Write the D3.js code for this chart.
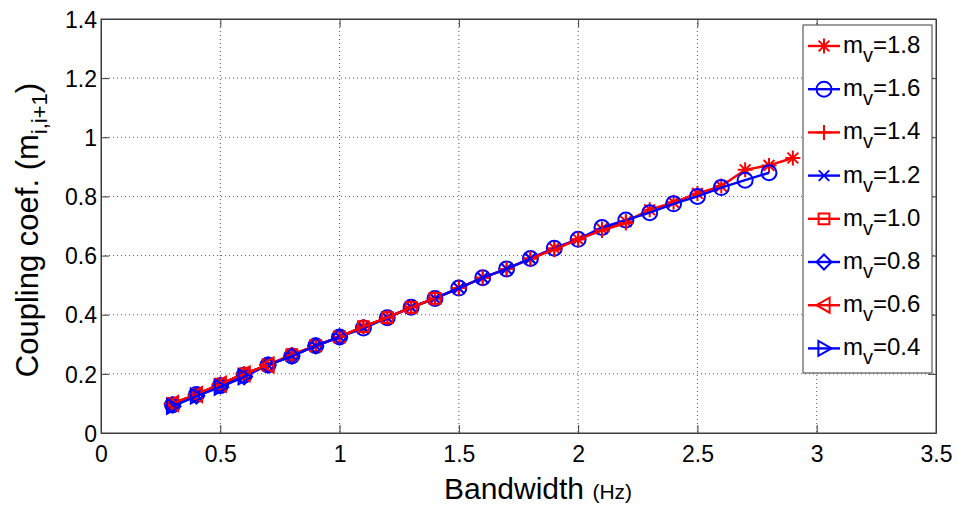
<!DOCTYPE html>
<html><head><meta charset="utf-8">
<script src="https://cdn.jsdelivr.net/npm/d3@7"></script>
<style>body{margin:0;background:#fff}svg{display:block;font-family:"Liberation Sans",Arial,sans-serif}</style>
</head><body><svg id="c" width="958" height="506"></svg>
<script>
const xTicks=[0,0.5,1,1.5,2,2.5,3,3.5];
const yTicks=[0,0.2,0.4,0.6,0.8,1,1.2,1.4];
const xTickLabels=["0","0.5","1","1.5","2","2.5","3","3.5"];
const yTickLabels=["0","0.2","0.4","0.6","0.8","1","1.2","1.4"];
const seriesNames=["1.8","1.6","1.4","1.2","1.0","0.8","0.6","0.4"];
const seriesColors=["#ff0000","#0000ff","#ff0000","#0000ff","#ff0000","#0000ff","#ff0000","#0000ff"];
const seriesMarkers=["asterisk","circle","plus","cross","square","diamond","triLeft","triRight"];
const xStart=0.3, xStep=0.1;
const y18=[0.10,0.13,0.165,0.20,0.23,0.265,0.295,0.325,0.36,0.39,0.425,0.455,0.49,0.525,0.555,0.59,0.625,0.655,0.69,0.715,0.755,0.78,0.81,0.835,0.89,0.905,0.93];
const y16=[0.095,0.13,0.16,0.195,0.23,0.26,0.295,0.325,0.355,0.39,0.425,0.455,0.49,0.525,0.555,0.59,0.625,0.655,0.695,0.72,0.745,0.775,0.80,0.83,0.855,0.88];
const y14=[0.10,0.13,0.165,0.20,0.23,0.265,0.295,0.325,0.36,0.39,0.425,0.455,0.49,0.525,0.555,0.59,0.62,0.655,0.685,0.71];
const y12=[0.095,0.13,0.16,0.195,0.23,0.26,0.295,0.325,0.355,0.39,0.425,0.455,0.49,0.525,0.555,0.59];
const y10=[0.10,0.13,0.165,0.20,0.23,0.265,0.295,0.325,0.36,0.39,0.425,0.455];
const y08=[0.095,0.125,0.16,0.19,0.23,0.26,0.295,0.325];
const y06=[0.10,0.13,0.165,0.20,0.23];
const y04=[0.09,0.125,0.155,0.19];
const seriesValues=[y18,y16,y14,y12,y10,y08,y06,y04];

const svg=d3.select("#c");
const L=101,R=936,T=19,B=433;
const x=d3.scaleLinear().domain([0,3.5]).range([L,R]);
const y=d3.scaleLinear().domain([0,1.4]).range([B,T]);
const axisCol="#3c3c3c";

// grid
const g=svg.append("g");
g.selectAll(".gx").data(xTicks.slice(1,-1)).enter().append("line")
 .attr("x1",d=>x(d)).attr("x2",d=>x(d)).attr("y1",T).attr("y2",B)
 .attr("stroke","#555").attr("stroke-width",1).attr("stroke-dasharray","1,3");
g.selectAll(".gy").data(yTicks.slice(1,-1)).enter().append("line")
 .attr("y1",d=>y(d)).attr("y2",d=>y(d)).attr("x1",L).attr("x2",R)
 .attr("stroke","#555").attr("stroke-width",1).attr("stroke-dasharray","1,3");

// axes
const xa=svg.append("g").attr("transform",`translate(0,${B})`)
 .call(d3.axisBottom(x).tickValues(xTicks).tickFormat((d,i)=>xTickLabels[i]).tickSizeInner(-8).tickSizeOuter(0));
const xa2=svg.append("g").attr("transform",`translate(0,${T})`)
 .call(d3.axisTop(x).tickValues(xTicks).tickFormat("").tickSizeInner(-8).tickSizeOuter(0));
const ya=svg.append("g").attr("transform",`translate(${L},0)`)
 .call(d3.axisLeft(y).tickValues(yTicks).tickFormat((d,i)=>yTickLabels[i]).tickSizeInner(-8).tickSizeOuter(0));
const ya2=svg.append("g").attr("transform",`translate(${R},0)`)
 .call(d3.axisRight(y).tickValues(yTicks).tickFormat("").tickSizeInner(-8).tickSizeOuter(0));
[xa,xa2,ya,ya2].forEach(a=>{
 a.selectAll("path").attr("stroke",axisCol).attr("stroke-width",1);
 a.selectAll("line").attr("stroke",axisCol).attr("stroke-width",1);
 a.selectAll("text").attr("fill","#000").style("font-size","23px").style("font-family","'Liberation Sans',Arial,sans-serif");
});
xa.selectAll("text").attr("dy",0).attr("y",29);
ya.selectAll("text").attr("x",-4).attr("dy","0.36em");

// marker path generator
function markerPath(type,s){
 switch(type){
  case "asterisk":{const a=s*0.72;return `M${-s},0L${s},0M0,${-s}L0,${s}M${-a},${-a}L${a},${a}M${-a},${a}L${a},${-a}`;}
  case "circle": return `M${s},0A${s},${s} 0 1,1 ${-s},0A${s},${s} 0 1,1 ${s},0Z`;
  case "plus": return `M${-s},0L${s},0M0,${-s}L0,${s}`;
  case "cross":{const a=s*0.7;return `M${-a},${-a}L${a},${a}M${-a},${a}L${a},${-a}`;}
  case "square":{const a=s*0.72;return `M${-a},${-a}H${a}V${a}H${-a}Z`;}
  case "diamond": return `M0,${-s}L${s},0L0,${s}L${-s},0Z`;
  case "triLeft": return `M${-s},0L${s*0.75},${-s}L${s*0.75},${s}Z`;
  case "triRight": return `M${s},0L${-s*0.75},${-s}L${-s*0.75},${s}Z`;
 }
}
const line=d3.line().x(d=>x(d[0])).y(d=>y(d[1]));
const plot=svg.append("g");
seriesValues.forEach((vals,i)=>{
 const pts=vals.map((v,j)=>[+(xStart+j*xStep).toFixed(2),v]);
 const sg=plot.append("g");
 sg.append("path").datum(pts).attr("d",line).attr("fill","none")
  .attr("stroke",seriesColors[i]).attr("stroke-width",2.4);
 sg.selectAll("path.m").data(pts).enter().append("path").attr("class","m")
  .attr("transform",d=>`translate(${x(d[0])},${y(d[1])})`)
  .attr("d",markerPath(seriesMarkers[i],7.5)).attr("fill","none")
  .attr("stroke",seriesColors[i]).attr("stroke-width",2);
});

// box on top
svg.append("rect").attr("x",L).attr("y",T).attr("width",R-L).attr("height",B-T)
 .attr("fill","none").attr("stroke",axisCol).attr("stroke-width",1);

// legend
const lg=svg.append("g");
lg.append("rect").attr("x",803).attr("y",25).attr("width",129).attr("height",348)
 .attr("fill","#fff").attr("stroke",axisCol).attr("stroke-width",1);
seriesNames.forEach((n,i)=>{
 const cy=46+i*43.2;
 lg.append("line").attr("x1",808).attr("x2",840).attr("y1",cy).attr("y2",cy)
  .attr("stroke",seriesColors[i]).attr("stroke-width",2.4);
 lg.append("path").attr("transform",`translate(824,${cy})`).attr("d",markerPath(seriesMarkers[i],7.5))
  .attr("fill","none").attr("stroke",seriesColors[i]).attr("stroke-width",2);
 const t=lg.append("text").attr("x",843).attr("y",cy+7).attr("fill","#000").style("font-size","24px");
 t.append("tspan").text("m");
 t.append("tspan").text("v").attr("dy",9).style("font-size","20px");
 t.append("tspan").text("="+n).attr("dy",-9);
});

// axis labels
const xl=svg.append("text").attr("x",538).attr("y",499).attr("text-anchor","middle").attr("fill","#000");
xl.append("tspan").text("Bandwidth ").style("font-size","30px");
xl.append("tspan").text("(Hz)").style("font-size","21px");
const yl=svg.append("text").attr("transform","translate(38,230) rotate(-90)").attr("text-anchor","middle").attr("fill","#000");
yl.append("tspan").text("Coupling coef. (m").style("font-size","31px");
yl.append("tspan").text("i,i+1").attr("dy",9).style("font-size","22px");
yl.append("tspan").text(")").attr("dy",-9).style("font-size","31px");
</script></body></html>
